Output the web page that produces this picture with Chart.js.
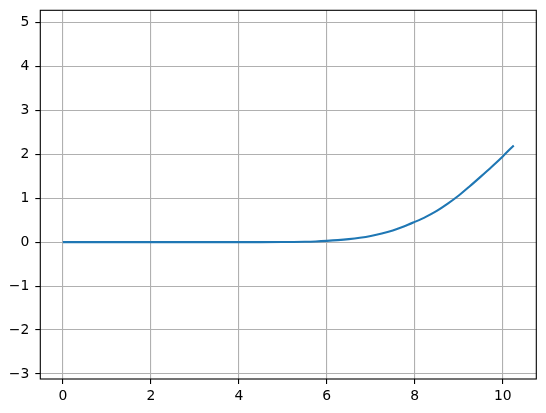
<!DOCTYPE html>
<html>
<head>
<meta charset="utf-8">
<script src="https://cdn.jsdelivr.net/npm/chart.js@4"></script>
<style>
html,body{margin:0;padding:0;background:#fff;}
#wrap{width:546px;height:413px;position:relative;}
</style>
</head>
<body>
<div id="wrap"><canvas id="c" width="546" height="413"></canvas></div>
<script>
const xValues = [0, 0.5, 1, 1.5, 2, 2.5, 3, 3.5, 4, 4.5, 5, 5.25, 5.5, 5.75, 6, 6.25, 6.5, 6.75, 7, 7.25, 7.5, 7.75, 8, 8.25, 8.5, 8.75, 9, 9.25, 9.5, 9.75, 10, 10.25];
const yValues = [0, 0, 0, 0, 0, 0, 0, 0, 0, 0, 0.001, 0.003, 0.007, 0.015, 0.028, 0.045, 0.068, 0.099, 0.14, 0.195, 0.265, 0.353, 0.46, 0.575, 0.71, 0.875, 1.06, 1.27, 1.49, 1.715, 1.95, 2.20];
const xTicks = [0, 2, 4, 6, 8, 10];
const yTicks = [-3, -2, -1, 0, 1, 2, 3, 4, 5];
const xRange = [-0.5125, 10.7625];
const yRange = [-3.114, 5.273];

const points = xValues.map((x, i) => ({x: x, y: yValues[i]}));
const fmt = v => (v < 0 ? '\u2212' + Math.abs(v) : String(v));

const frame = {
  id: 'frame',
  afterDatasetsDraw(chart) {
    const a = chart.chartArea, ctx = chart.ctx;
    ctx.save();
    ctx.strokeStyle = '#000';
    ctx.lineWidth = 1.1;
    ctx.strokeRect(a.left, a.top, a.right - a.left, a.bottom - a.top);
    ctx.restore();
  }
};
const noPad = s => { s.paddingTop = 0; s.paddingBottom = 0; s.paddingLeft = 0; s.paddingRight = 0; };

new Chart(document.getElementById('c'), {
  type: 'line',
  data: {
    datasets: [{
      data: points,
      borderColor: '#1f77b4',
      borderWidth: 2.1,
      pointRadius: 0,
      fill: false,
      cubicInterpolationMode: 'monotone'
    }]
  },
  options: {
    responsive: false,
    animation: false,
    devicePixelRatio: 1,
    layout: {padding: {top: 10.3, right: 9.7, left: 0, bottom: 0}},
    plugins: {legend: {display: false}, tooltip: {enabled: false}},
    scales: {
      x: {
        type: 'linear',
        min: xRange[0], max: xRange[1],
        afterBuildTicks: s => { s.ticks = xTicks.map(v => ({value: v})); },
        afterFit: s => { s.height = 34; noPad(s); },
        grid: {color: '#b0b0b0', lineWidth: 1.1, tickColor: '#000', tickLength: 5, tickWidth: 1.1},
        border: {display: false},
        ticks: {color: '#000', font: {family: 'DejaVu Sans', size: 13.9}, padding: 4, maxRotation: 0, callback: v => fmt(v)}
      },
      y: {
        type: 'linear',
        min: yRange[0], max: yRange[1],
        afterBuildTicks: s => { s.ticks = yTicks.map(v => ({value: v})); },
        afterFit: s => { s.width = 40.3; noPad(s); },
        grid: {color: '#b0b0b0', lineWidth: 1.1, tickColor: '#000', tickLength: 5, tickWidth: 1.1},
        border: {display: false},
        ticks: {color: '#000', font: {family: 'DejaVu Sans', size: 13.9}, padding: 6, callback: v => fmt(v)}
      }
    }
  },
  plugins: [frame]
});
</script>
</body>
</html>
